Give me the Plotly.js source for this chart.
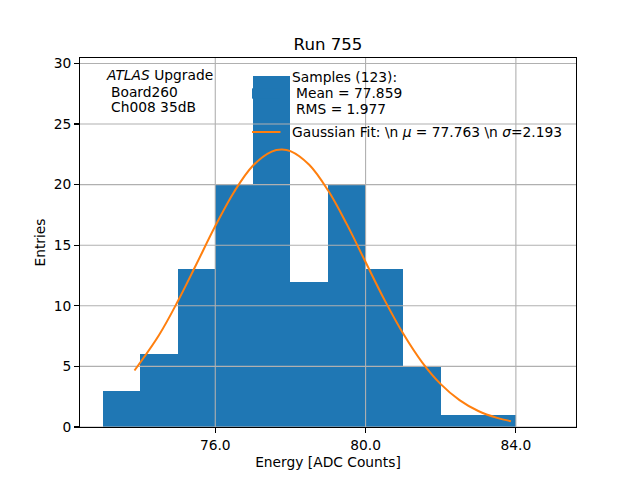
<!DOCTYPE html>
<html>
<head>
<meta charset="utf-8">
<script src="https://cdn.plot.ly/plotly-3.0.1.min.js"></script>
<style>html,body{margin:0;padding:0;background:#fff;}#chart{width:640px;height:480px;}</style>
</head>
<body>
<div id="chart"></div>
<script>
// ---- data ----
const binLeft = [73, 74, 75, 76, 77, 78, 79, 80, 81, 82, 83, 84];
const binCounts = [3, 6, 13, 20, 29, 12, 20, 13, 5, 1, 1, 0];
const fitX = [73.85, 74.5, 75.0, 75.5, 76.0, 76.5, 77.0, 77.5, 77.763, 78.0, 78.5, 79.0, 79.5, 80.0, 80.5, 81.0, 81.5, 82.0, 82.5, 83.0, 83.5, 83.87];
const fitY = [4.66, 7.57, 10.36, 13.45, 16.58, 19.40, 21.56, 22.73, 22.90, 22.77, 21.64, 19.53, 16.74, 13.61, 10.51, 7.71, 5.36, 3.54, 2.22, 1.32, 0.75, 0.47];
const xTickVals = [76, 80, 84];
const xTickText = ["76.0", "80.0", "84.0"];
const yTickVals = [0, 5, 10, 15, 20, 25, 30];
const yTickText = ["0", "5", "10", "15", "20", "25", "30"];
const titleText = "Run 755";
const xTitle = "Energy [ADC Counts]";
const yTitle = "Entries";
const infoLines = ["<i>ATLAS</i> Upgrade", "Board260", "Ch008 35dB"];
const legendSamples = ["Samples (123):", "Mean = 77.859", "RMS = 1.977"];
const legendFit = "Gaussian Fit: \\n <i>μ</i> = 77.763 \\n <i>σ</i>=2.193";

// ---- layout helpers ----
const W = 640, H = 480;
const L = 80, R = 576, T = 57.6, B = 427.2;
const xRange = [72.4, 85.6];
const yRange = [0, 30.45];
const px = x => (x - L) / (R - L);
const py = y => (B - y) / (B - T);
const FONT = "DejaVu Sans, sans-serif";
const FS_TXT = 13.8;

// grid lines built from tick arrays
const gx = [], gy = [];
xTickVals.forEach(v => { gx.push(v, v, null); gy.push(yRange[0], yRange[1], null); });
yTickVals.forEach(v => { gx.push(xRange[0], xRange[1], null); gy.push(v, v, null); });

const traces = [
  {
    type: "bar", x: binLeft, y: binCounts, width: 1, offset: 0,
    marker: {color: "#1f77b4", line: {width: 0}}, showlegend: false, hoverinfo: "skip"
  },
  {
    type: "scatter", mode: "lines", x: gx, y: gy,
    line: {color: "#b0b0b0", width: 1.1}, showlegend: false, hoverinfo: "skip", cliponaxis: true
  },
  {
    type: "scatter", mode: "lines", x: fitX, y: fitY,
    line: {color: "#ff7f0e", width: 2, shape: "spline"}, showlegend: false, hoverinfo: "skip"
  }
];

const annotations = [];
const infoPos = [[104, 74.5], [108.5, 91.5], [108.5, 107]];
infoLines.forEach((t, i) => annotations.push({
  text: t, xref: "paper", yref: "paper", x: px(infoPos[i][0]), y: py(infoPos[i][1]),
  xanchor: "left", yanchor: "middle", showarrow: false, font: {family: FONT, size: FS_TXT, color: "#000"}
}));
const legPos = [[289.5, 76.5], [293.5, 92.5], [293.5, 109]];
legendSamples.forEach((t, i) => annotations.push({
  text: t, xref: "paper", yref: "paper", x: px(legPos[i][0]), y: py(legPos[i][1]),
  xanchor: "left", yanchor: "middle", showarrow: false, font: {family: FONT, size: FS_TXT, color: "#000"}
}));
annotations.push({
  text: legendFit, xref: "paper", yref: "paper", x: px(289.5), y: py(131.5),
  xanchor: "left", yanchor: "middle", showarrow: false, font: {family: FONT, size: FS_TXT, color: "#000"}
});

const shapes = [
  {type: "rect", xref: "paper", yref: "paper", x0: px(252), x1: px(280), y0: py(98.3), y1: py(88),
   fillcolor: "#1f77b4", line: {width: 0}, layer: "above"},
  {type: "line", xref: "paper", yref: "paper", x0: px(252), x1: px(280.5), y0: py(131.7), y1: py(131.7),
   line: {color: "#ff7f0e", width: 2}, layer: "above"}
];

const axisCommon = {
  showgrid: false, zeroline: false, showline: true, mirror: true,
  linecolor: "#000", linewidth: 1.1, ticks: "outside", ticklen: 4.9, tickwidth: 1.1, tickcolor: "#000",
  tickfont: {family: FONT, size: FS_TXT, color: "#000"}
};

const layout = {
  width: W, height: H,
  margin: {l: L, r: W - R, t: T, b: H - B, pad: 0},
  paper_bgcolor: "#fff", plot_bgcolor: "#fff",
  showlegend: false,
  title: {text: titleText, font: {family: FONT, size: 16.6, color: "#000"},
          x: 0.5, xref: "paper", y: 1, yref: "paper", yanchor: "bottom", pad: {b: 8}},
  xaxis: Object.assign({}, axisCommon, {
    range: xRange, tickmode: "array", tickvals: xTickVals, ticktext: xTickText,
    title: {text: xTitle, font: {family: FONT, size: FS_TXT, color: "#000"}, standoff: 5}
  }),
  yaxis: Object.assign({}, axisCommon, {
    range: yRange, tickmode: "array", tickvals: yTickVals, ticktext: yTickText,
    title: {text: yTitle, font: {family: FONT, size: FS_TXT, color: "#000"}, standoff: 4}
  }),
  annotations: annotations,
  shapes: shapes,
  bargap: 0
};

Plotly.newPlot("chart", traces, layout, {displayModeBar: false, staticPlot: true});
</script>
</body>
</html>
